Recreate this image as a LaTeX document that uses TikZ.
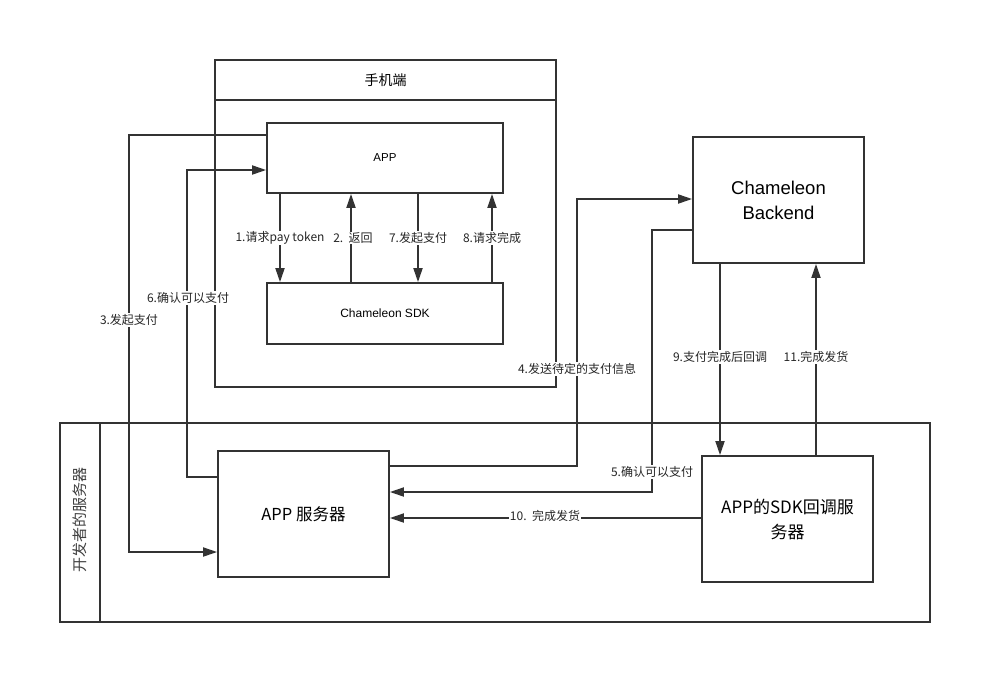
\documentclass[tikz,border=0pt]{standalone}
\usepackage{fontspec}
\setmainfont{Liberation Sans}
\newfontfamily\cjk{Noto Sans CJK SC}
\usetikzlibrary{arrows.meta}
\definecolor{ln}{HTML}{333333}
\tikzset{
  box/.style={draw=ln, line width=1.8pt, rectangle, inner sep=0pt, fill=white},
  arr/.style={draw=ln, line width=1.8pt, -{Triangle[length=14pt,width=9pt]}},
  lbl/.style={fill=white, inner sep=1pt, font=\cjk\fontsize{12}{14}\selectfont, text=black!85},
}
\begin{document}
\begin{tikzpicture}[x=1pt,y=-1pt]
\useasboundingbox (0,0) rectangle (990,683);
% containers
\node[box, minimum width=341pt, minimum height=327pt] (mobile) at (385.5,223.5) {};
\coordinate (mh) at (0,100);
\draw[ln, line width=1.8pt] (mobile.west |- mh) -- (mobile.east |- mh);
\node[font=\cjk\fontsize{14}{16}\selectfont] (mtitle) at (385.5,80) {手机端};
\node[box, minimum width=870pt, minimum height=199pt] (dev) at (495,522.5) {};
\coordinate (db) at (100,0);
\draw[ln, line width=1.8pt] (dev.north -| db) -- (dev.south -| db);
\node[rotate=90, font=\cjk\fontsize{15}{17}\selectfont\color{black!75}] (devtitle) at (80,520) {开发者的服务器};
% boxes
\node[box, minimum width=236pt, minimum height=70pt, font=\fontsize{11.5}{13}\selectfont] (app) at (385,158) {APP};
\node[box, minimum width=236pt, minimum height=61pt, font=\fontsize{12}{13}\selectfont] (sdk) at (385,313.5) {Chameleon SDK};
\node[box, minimum width=171pt, minimum height=126pt, align=center, font=\fontsize{18.5}{25}\selectfont] (backend) at (778.5,200) {Chameleon\\Backend};
\node[box, minimum width=171pt, minimum height=126pt, font=\cjk\fontsize{16.5}{20}\selectfont] (appsrv) at (303.5,514) {APP\ 服务器};
\node[box, minimum width=171pt, minimum height=126pt, align=center, font=\cjk\fontsize{17}{25}\selectfont] (cbsrv) at (787.5,519) {APP的SDK回调服\\务器};
% APP <-> SDK
\coordinate (c1) at (280,0);
\coordinate (c2) at (351,0);
\coordinate (c7) at (418,0);
\coordinate (c8) at (492,0);
\draw[arr] (app.south -| c1) -- (sdk.north -| c1);
\draw[arr] (sdk.north -| c2) -- (app.south -| c2);
\draw[arr] (app.south -| c7) -- (sdk.north -| c7);
\draw[arr] (sdk.north -| c8) -- (app.south -| c8);
\node[lbl] (l1) at (280,238) {1.请求pay\ token};
\node[lbl] (l2) at (353,238) {2.\ \ 返回};
\node[lbl] (l7) at (418,238) {7.发起支付};
\node[lbl] (l8) at (492,238) {8.请求完成};
% 3
\coordinate (y3a) at (0,135);
\coordinate (y3b) at (0,552);
\draw[arr] (app.west |- y3a) -- (129,135) |- (appsrv.west |- y3b);
\node[lbl] (l3) at (129,320) {3.发起支付};
% 6
\coordinate (y6a) at (0,477);
\coordinate (y6b) at (0,170);
\draw[arr] (appsrv.west |- y6a) -- (187,477) |- (app.west |- y6b);
\node[lbl] (l6) at (188,298) {6.确认可以支付};
% 4
\coordinate (y4a) at (0,466);
\coordinate (y4b) at (0,199);
\draw[arr] (appsrv.east |- y4a) -- (577,466) |- (backend.west |- y4b);
\node[lbl] (l4) at (577,369) {4.发送待定的支付信息};
% 5
\coordinate (y5a) at (0,230);
\coordinate (y5b) at (0,492);
\draw[arr] (backend.west |- y5a) -- (652,230) |- (appsrv.east |- y5b);
\node[lbl] (l5) at (652,472) {5.确认可以支付};
% 10
\coordinate (y10) at (0,518);
\draw[arr] (cbsrv.west |- y10) -- (appsrv.east |- y10);
\node[lbl] (l10) at (545,516) {10.\ \ 完成发货};
% 9, 11
\coordinate (c9) at (720,0);
\coordinate (c11) at (816,0);
\draw[arr] (backend.south -| c9) -- (cbsrv.north -| c9);
\draw[arr] (cbsrv.north -| c11) -- (backend.south -| c11);
\node[lbl] (l9) at (720,357) {9.支付完成后回调};
\node[lbl] (l11) at (816,357) {11.完成发货};
\end{tikzpicture}
\end{document}
